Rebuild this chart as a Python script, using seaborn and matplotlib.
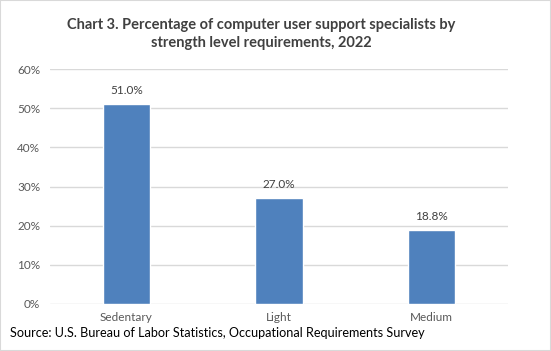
import matplotlib
matplotlib.use("Agg")
import matplotlib.pyplot as plt
import seaborn as sns
import pandas as pd
from matplotlib.ticker import PercentFormatter

# data
levels = ["Sedentary", "Light", "Medium"]
percents = [51.0, 27.0, 18.8]

df = pd.DataFrame({"level": levels, "pct": percents})

sns.set_style("white")
plt.rcParams['font.family'] = ['Lato', 'DejaVu Sans']

fig = plt.figure(figsize=(5.51, 3.51), dpi=100)
ax = fig.add_axes([50 / 551, 47 / 351, 458 / 551, 235 / 351])

sns.barplot(data=df, x="level", y="pct", color="#4f81bd", width=0.31,
            saturation=1, ax=ax, zorder=3)

ax.set_ylim(0, 60)
ax.set_xlim(-0.5, 2.5)
ax.set_yticks(range(0, 61, 10))
ax.yaxis.set_major_formatter(PercentFormatter(decimals=0))
ax.grid(axis="y", color="#d9d9d9", linewidth=1, zorder=0)
ax.set_xlabel("")
ax.set_ylabel("")
for s in ax.spines.values():
    s.set_visible(False)
ax.tick_params(axis="both", length=0, labelsize=8.5, colors="#595959")
ax.tick_params(axis="y", pad=7)
ax.tick_params(axis="x", pad=6)

for i, v in enumerate(percents):
    ax.text(i, v + 2.2, f"{v:.1f}%", ha="center", va="bottom",
            fontsize=8.5, color="#404040")

fig.text(261 / 551, 1 - 34 / 351, "Chart 3. Percentage of computer user support specialists by\nstrength level requirements, 2022",
         ha="center", va="center", fontsize=10.5, fontweight="bold",
         color="#404040", linespacing=1.3)
fig.text(10 / 551, 1 - 333 / 351,
         "Source: U.S. Bureau of Labor Statistics, Occupational Requirements Survey",
         ha="left", va="center", fontsize=9.1, color="black")

# border
fig.patches.append(plt.Rectangle((0, 0), 1, 1, transform=fig.transFigure,
                                 fill=False, edgecolor="#d9d9d9", linewidth=1.5))

fig.savefig("out.png", dpi=100)
